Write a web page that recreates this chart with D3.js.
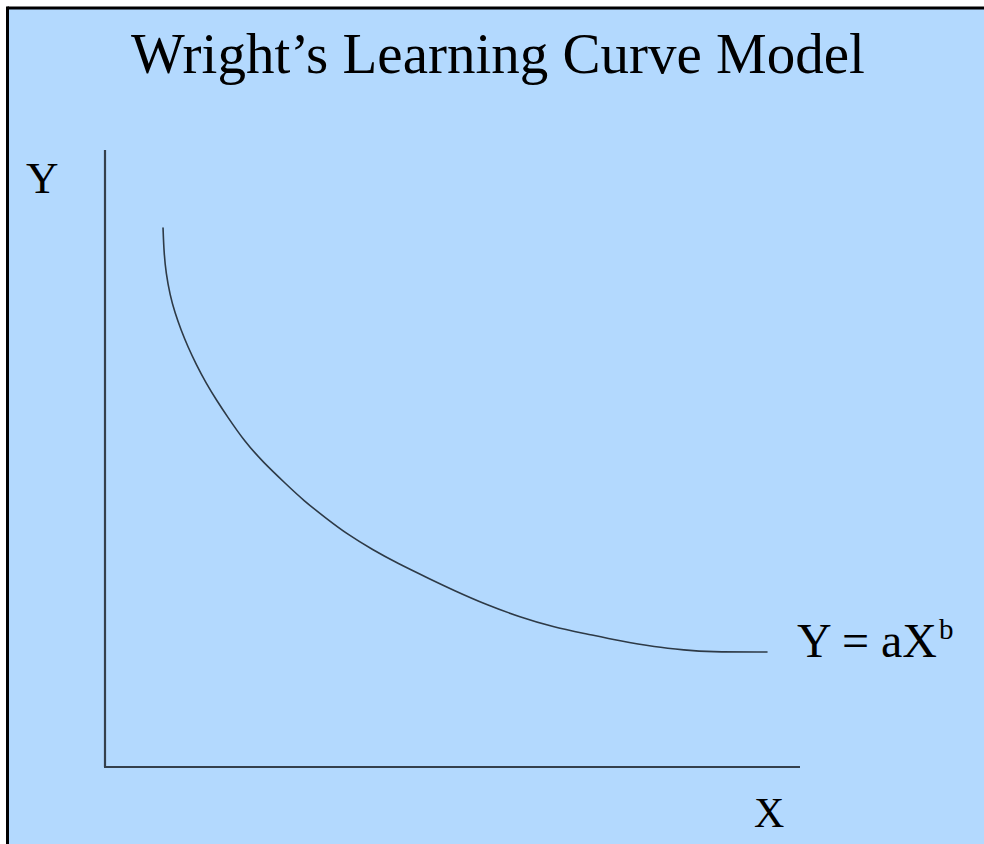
<!DOCTYPE html>
<html><head><meta charset="utf-8">
<script src="https://cdn.jsdelivr.net/npm/d3@7"></script>
<style>html,body{margin:0;padding:0;background:#fff;}svg{display:block;}</style>
</head><body>
<script>
// Data (arbitrary units, axes 0..100)
const curveX = [8.35,8.49,8.78,9.35,10.07,10.94,11.94,13.09,14.53,16.12,17.55,20.14,22.73,26.04,28.49,31.94,34.82,38.56,42.01,46.76,50.07,54.96,59.71,64.46,69.35,74.10,79.14,83.45,86.76,95.25];
const curveY = [87.36,83.31,80.06,76.50,73.58,70.83,68.07,65.32,62.24,59.32,56.89,52.67,49.43,45.87,43.27,40.19,37.76,35.17,33.06,30.47,28.69,26.26,24.31,22.69,21.56,20.42,19.45,18.96,18.64,18.64];
const titleText = "Wright\u2019s Learning Curve Model";
const yLabel = "Y";
const xLabel = "X";
const formulaMain = "Y = aX";
const formulaSup = "b";

const W = 984, H = 844;
const svg = d3.select("body").append("svg").attr("width", W).attr("height", H);
svg.append("rect").attr("x",0).attr("y",0).attr("width",W).attr("height",H).attr("fill","#fff");
svg.append("rect").attr("x",8).attr("y",8).attr("width",W-8).attr("height",H-8).attr("fill","#b3d9fe");
// top and left border
svg.append("line").attr("x1",7.5).attr("y1",8).attr("x2",W).attr("y2",8).attr("stroke","#000").attr("stroke-width",3);
svg.append("line").attr("x1",7.5).attr("y1",6.5).attr("x2",7.5).attr("y2",H).attr("stroke","#000").attr("stroke-width",3);

const x = d3.scaleLinear().domain([0,100]).range([105,800]);
const y = d3.scaleLinear().domain([0,100]).range([767,150]);

const axisColor = "#34404c";
// axes
svg.append("line").attr("x1",x(0)).attr("y1",y(100)).attr("x2",x(0)).attr("y2",y(0))
  .attr("stroke",axisColor).attr("stroke-width",2.2);
svg.append("line").attr("x1",x(0)-1).attr("y1",y(0)).attr("x2",x(100)).attr("y2",y(0))
  .attr("stroke",axisColor).attr("stroke-width",2.2);

const pts = curveX.map((v,i)=>[v,curveY[i]]);
const line = d3.line().x(d=>x(d[0])).y(d=>y(d[1])).curve(d3.curveBasis);
svg.append("path").attr("d", line(pts)).attr("fill","none")
  .attr("stroke","#2e3a46").attr("stroke-width",1.6).attr("stroke-linecap","round");

const font = "'Liberation Serif','Times New Roman',serif";
svg.append("text").attr("x",498).attr("y",73).attr("text-anchor","middle")
  .attr("font-family",font).attr("font-size",57).attr("fill","#000").text(titleText);
svg.append("text").attr("x",26).attr("y",193).attr("font-family",font).attr("font-size",45).attr("fill","#000").text(yLabel);
svg.append("text").attr("x",754).attr("y",827).attr("font-family",font).attr("font-size",42).attr("fill","#000").text(xLabel);
const f = svg.append("text").attr("x",797).attr("y",657).attr("font-family",font).attr("font-size",48).attr("fill","#000");
f.append("tspan").attr("xml:space","preserve").text(formulaMain);
f.append("tspan").attr("dx",2).attr("dy",-18).attr("font-size",29).text(formulaSup);
</script>
</body></html>
